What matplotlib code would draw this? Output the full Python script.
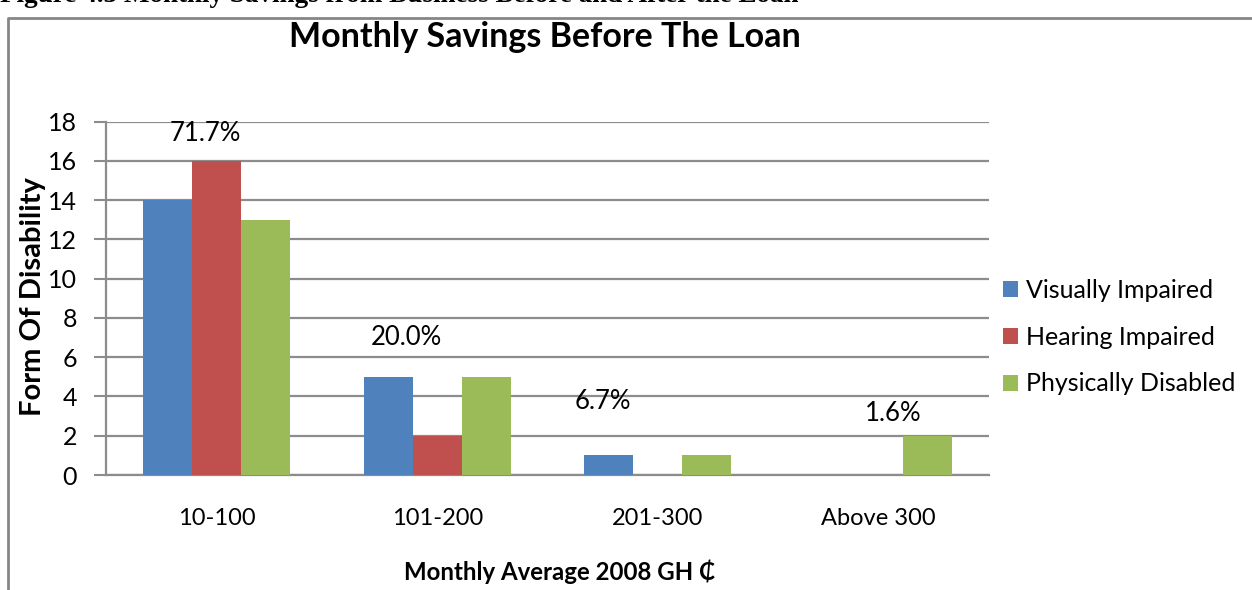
import numpy as np
import matplotlib.pyplot as plt
from matplotlib.lines import Line2D

categories = ["10-100", "101-200", "201-300", "Above 300"]
visually = [14, 5, 1, 0]
hearing = [16, 2, 0, 0]
physically = [13, 5, 1, 2]
series_names = ["Visually Impaired", "Hearing Impaired", "Physically Disabled"]
pct_labels = ["71.7%", "20.0%", "6.7%", "1.6%"]
# where the data labels sit (category index, value)
pct_x = [-0.05, 0.86, 1.75, 3.065]
pct_y = [17.4, 7.0, 3.75, 3.15]

colors = ['#4F81BD', '#C0504D', '#9BBB59']
grid_c = '#8c8c8c'
font = ['Lato', 'DejaVu Sans']
plt.rcParams['font.family'] = font

fig = plt.figure(figsize=(12.52, 5.9), dpi=100)
ax = fig.add_axes([0.0847, 0.1949, 0.7053, 0.5988])

x = np.arange(len(categories))
w = 0.222
for k, vals in enumerate([visually, hearing, physically]):
    ax.bar(x + (k - 1) * w, vals, width=w, color=colors[k], label=series_names[k], zorder=3)

for i in range(len(pct_labels)):
    ax.text(pct_x[i], pct_y[i], pct_labels[i], ha='center', va='center', fontsize=18.5)

ax.set_xlim(-0.5, 3.5)
ax.set_ylim(0, 18)
ax.set_yticks(range(0, 19, 2))
ax.set_xticks(x)
ax.set_xticklabels(categories, fontsize=17)
ax.tick_params(axis='x', length=0, pad=24)
ax.tick_params(axis='y', length=9, width=1.5, color=grid_c, labelsize=18, pad=12)
ax.yaxis.grid(True, color=grid_c, linewidth=1.6, zorder=0)
for s in ['top', 'right']:
    ax.spines[s].set_visible(False)
ax.spines['left'].set_color(grid_c)
ax.spines['left'].set_linewidth(1.6)
ax.spines['bottom'].set_color(grid_c)
ax.spines['bottom'].set_linewidth(1.6)

ax.set_ylabel("Form Of Disability", fontsize=21, fontweight='bold')
ax.yaxis.set_label_coords(-0.068, 0.504)
fig.text(560 / 1252, 1 - 572 / 590, "Monthly Average 2008 GH \u20b5", ha='center', va='center',
         fontsize=17.3, fontweight='bold')
fig.text(545 / 1252, 1 - 37 / 590, "Monthly Savings Before The Loan", ha='center', va='center',
         fontsize=24.5, fontweight='bold')

ax.legend(loc='center left', bbox_to_anchor=(1.016, 0.39), frameon=False, fontsize=18,
          borderpad=0, borderaxespad=0,
          handlelength=0.6, handleheight=0.6, handletextpad=0.3, labelspacing=0.95)

# cut-off caption above the chart frame
fig.text(0.0, 1 - 2 / 590, "Figure 4.3 Monthly Savings from Business Before and After the Loan",
         ha='left', va='baseline', fontsize=19.5, fontweight='bold', family='Liberation Serif')

# chart frame
fig.add_artist(Line2D([8 / 1252, 8 / 1252, 1.0], [0.0, 1 - 18 / 590, 1 - 18 / 590],
                      transform=fig.transFigure, color='#868686', linewidth=2))

fig.savefig("out.png", dpi=100)
